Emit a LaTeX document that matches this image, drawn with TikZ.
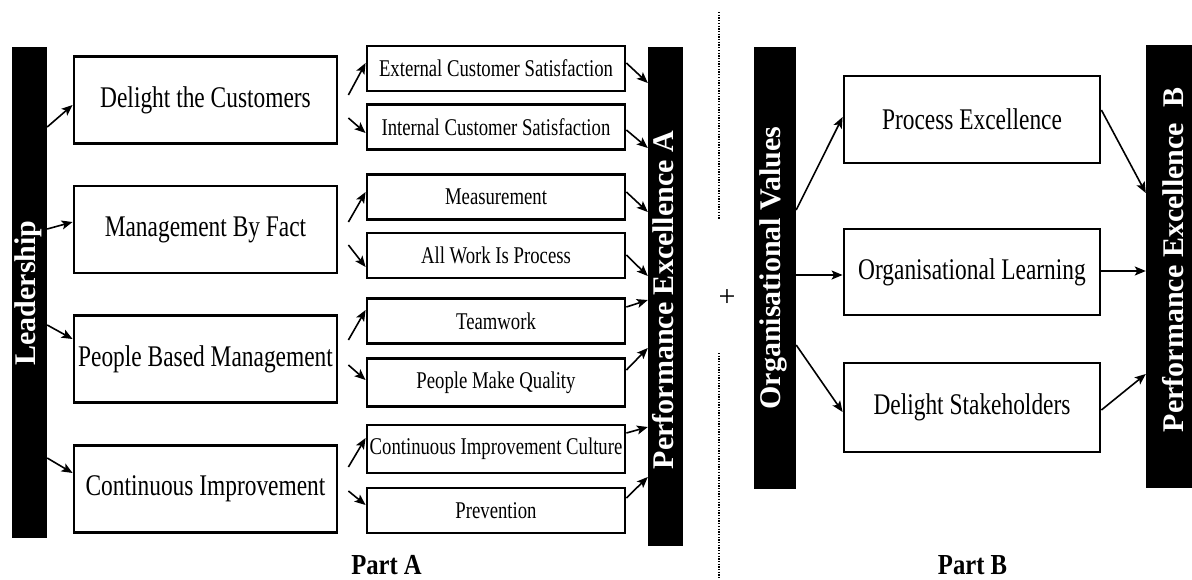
\documentclass[tikz,border=0pt]{standalone}
\usepackage{fontspec}
\setmainfont{Liberation Serif}
\newfontfamily\narrowserif[FakeStretch=0.78]{Liberation Serif}
\newfontfamily\labelserif[FakeStretch=0.85]{Liberation Serif}
\usetikzlibrary{arrows.meta,calc}

\begin{document}
\begin{tikzpicture}[x=1pt,y=-1pt,
  box/.style={draw,line width=2.8pt,inner sep=0pt,font=\narrowserif\fontsize{30}{36}\selectfont},
  bigbox/.style={box,minimum width=263pt,minimum height=87pt},
  smallbox/.style={box,minimum width=258pt,minimum height=45pt,font=\narrowserif\fontsize{24}{28}\selectfont},
  bluebox/.style={box,minimum width=256pt,minimum height=87pt},
  bar/.style={fill=black,inner sep=0pt},
  bartext/.style={text=white,rotate=90,anchor=base,inner sep=0pt,font=\bfseries\fontsize{30}{36}\selectfont},
  parttext/.style={anchor=base,inner sep=0pt,font=\labelserif\bfseries\fontsize{29}{34}\selectfont},
  arr/.style={line width=1.6pt,-{Stealth[length=11pt,width=9pt,inset=2.5pt]}},
  sep/.style={line width=1.3pt,dash pattern=on 1.3pt off 1.4pt}
]
\fill[white] (0,0) rectangle (1192,579);
\useasboundingbox (0,0) rectangle (1192,579);

% ---------- Part A ----------
\node[bar,minimum width=35pt,minimum height=491pt] (lead) at (29.5,292.5) {};
\node[bartext] (leadtxt) at (35,293) {Leadership};

\node[bar,minimum width=35pt,minimum height=499pt] (peA) at (665.5,296.5) {};
\node[bartext] (peAtxt) at (673,300) {Performance Excellence A};

\node[bigbox] (dtc) at (205.5,100)   {Delight the Customers};
\node[bigbox] (mbf) at (205.5,229.5) {Management By Fact};
\node[bigbox] (pbm) at (205.5,359)   {People Based Management};
\node[bigbox] (ci)  at (205.5,489)   {Continuous Improvement};

\node[smallbox] (ecs)  at (496,68.5)  {External Customer Satisfaction};
\node[smallbox] (ics)  at (496,127)   {Internal Customer Satisfaction};
\node[smallbox] (meas) at (496,197)   {Measurement};
\node[smallbox] (awip) at (496,255.5) {All Work Is Process};
\node[smallbox] (team) at (496,321)   {Teamwork};
\node[smallbox,minimum height=48pt] (pmq)  at (496,382.5) {People Make Quality};
\node[smallbox,minimum height=48pt] (cic)  at (496,449)   {Continuous Improvement Culture};
\node[smallbox] (prev) at (496,510.5) {Prevention};

% leadership to principles
\draw[arr] (lead.east |- 0,127) -- (dtc.west |- 0,105);
\draw[arr] (lead.east |- 0,229) -- (mbf.west |- 0,222);
\draw[arr] (lead.east |- 0,325) -- (pbm.west |- 0,339);
\draw[arr] (lead.east |- 0,458) -- (ci.west |- 0,473);

% principles to their elements
\draw[arr] ($(dtc.east |- 0,95)+(10,0)$)  -- (ecs.west |- 0,63);
\draw[arr] ($(dtc.east |- 0,118)+(10,0)$) -- (ics.west |- 0,133);
\draw[arr] ($(mbf.east |- 0,222)+(10,0)$) -- (meas.west |- 0,192);
\draw[arr] ($(mbf.east |- 0,245)+(10,0)$) -- (awip.west |- 0,267);
\draw[arr] ($(pbm.east |- 0,340)+(10,0)$) -- (team.west |- 0,310);
\draw[arr] ($(pbm.east |- 0,365)+(10,0)$) -- (pmq.west |- 0,380);
\draw[arr] ($(ci.east |- 0,467)+(10,0)$)  -- (cic.west |- 0,438);
\draw[arr] ($(ci.east |- 0,491)+(10,0)$)  -- (prev.west |- 0,505);

% elements to performance excellence A
\draw[arr] (ecs.east |- 0,63)   -- (peA.west |- 0,83);
\draw[arr] (ics.east |- 0,130)  -- (peA.west |- 0,148);
\draw[arr] (meas.east |- 0,192) -- (peA.west |- 0,212);
\draw[arr] (awip.east |- 0,255) -- (peA.west |- 0,276);
\draw[arr] (team.east |- 0,307) -- (peA.west |- 0,300);
\draw[arr] (pmq.east |- 0,370)  -- (peA.west |- 0,348);
\draw[arr] (cic.east |- 0,433)  -- (peA.west |- 0,427);
\draw[arr] (prev.east |- 0,498) -- (peA.west |- 0,477);

\node[parttext] (partA) at (386.5,574) {Part A};

% ---------- separator ----------
\draw[sep] (719,12) -- (719,219);
\draw[sep] (719,353) -- (719,579);
\node[inner sep=0pt,font=\fontsize{30}{34}\selectfont] (plus) at (727,298) {+};

% ---------- Part B ----------
\node[bar,minimum width=42pt,minimum height=442pt] (ov) at (775,268) {};
\node[bartext] (ovtxt) at (780,268) {Organisational Values};

\node[bar,minimum width=46pt,minimum height=443pt] (peB) at (1169,266.5) {};
\node[bartext] (peBtxt) at (1183,260) {Performance Excellence\ \ B};

\node[bluebox] (pe) at (972,119.5) {Process Excellence};
\node[bluebox,minimum height=86pt] (ol) at (972,272) {Organisational Learning};
\node[bluebox,minimum height=89pt] (ds) at (972,407.5) {Delight Stakeholders};

\draw[arr] (ov.east |- 0,210) -- (pe.west |- 0,117);
\draw[arr] (ov.east |- 0,275) -- (ol.west |- 0,275);
\draw[arr] (ov.east |- 0,345) -- (ds.west |- 0,412);
\draw[arr] (pe.east |- 0,110) -- (peB.west |- 0,193);
\draw[arr] (ol.east |- 0,271) -- (peB.west |- 0,271);
\draw[arr] (ds.east |- 0,410) -- (peB.west |- 0,374);

\node[parttext] (partB) at (972.5,574) {Part B};
\end{tikzpicture}
\end{document}
